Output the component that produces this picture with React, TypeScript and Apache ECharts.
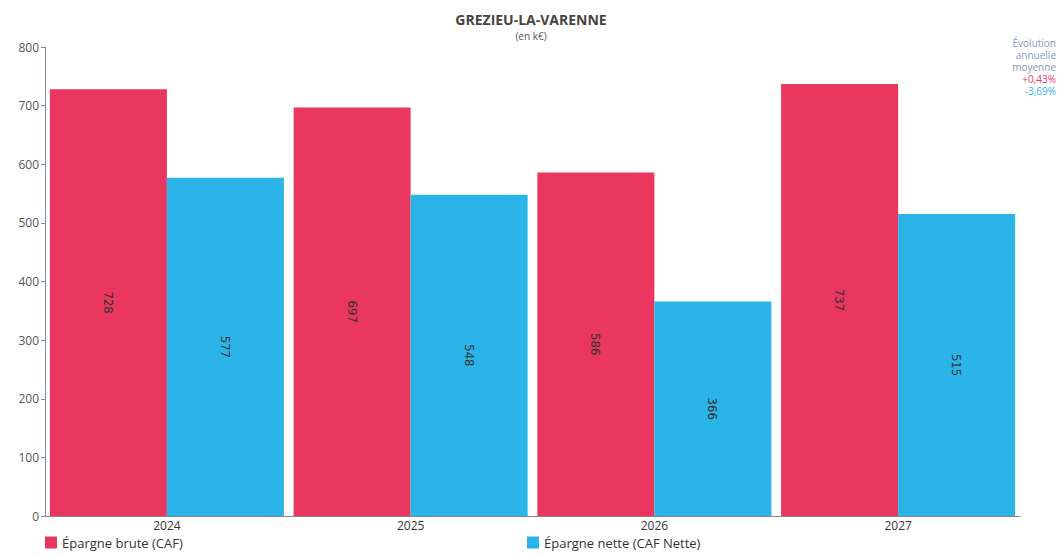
import React, { useEffect, useRef } from "react";
import * as echarts from "echarts";

const years = ["2024", "2025", "2026", "2027"];
const brute = [728, 697, 586, 737];
const nette = [577, 548, 366, 515];
const yTicks = { min: 0, max: 800, interval: 100 };
const evoLabel = ["Évolution", "annuelle", "moyenne"];
const evoBrute = "+0,43%";
const evoNette = "-3,69%";

const RED = "#E9375F";
const BLUE = "#2BB4E8";
const FONT = "'Open Sans', 'Noto Sans', sans-serif";

export default function App() {
  const ref = useRef<HTMLDivElement>(null);
  useEffect(() => {
    if (!ref.current) return;
    const chart = echarts.init(ref.current, null, { renderer: "svg" });
    const label = {
      show: true,
      position: "inside" as const,
      rotate: -90,
      color: "#333",
      fontSize: 13,
      fontFamily: "'DejaVu Sans Condensed', 'Liberation Sans Narrow', sans-serif",
    };
    const evoLines = [
      { text: evoLabel[0], fill: "#8a9ab5", top: 38 },
      { text: evoLabel[1], fill: "#8a9ab5", top: 50 },
      { text: evoLabel[2], fill: "#8a9ab5", top: 62 },
      { text: evoBrute, fill: RED, top: 74 },
      { text: evoNette, fill: BLUE, top: 86 },
    ];
    chart.setOption({
      animation: false,
      backgroundColor: "#fff",
      textStyle: { fontFamily: FONT },
      title: {
        text: "GREZIEU-LA-VARENNE",
        subtext: "(en k€)",
        left: "center",
        top: 6,
        itemGap: 3,
        textStyle: { fontSize: 14, fontWeight: "bold", color: "#444", fontFamily: FONT, lineHeight: 16 },
        subtextStyle: { fontSize: 10, color: "#555", fontFamily: FONT, lineHeight: 11 },
      },
      graphic: evoLines.map((l) => ({
        type: "text",
        right: 6,
        top: l.top,
        style: { text: l.text, fill: l.fill, font: `10px ${FONT}`, align: "right" },
      })),
      legend: [
        {
          data: ["Épargne brute (CAF)"],
          left: 40,
          bottom: 2,
          itemWidth: 12,
          itemHeight: 12,
          icon: "rect",
          textStyle: { fontSize: 13, color: "#333", fontFamily: FONT },
        },
        {
          data: ["Épargne nette (CAF Nette)"],
          left: 522,
          bottom: 2,
          itemWidth: 12,
          itemHeight: 12,
          icon: "rect",
          textStyle: { fontSize: 13, color: "#333", fontFamily: FONT },
        },
      ],
      grid: { left: 45, right: 42, top: 47, bottom: 40, containLabel: false },
      xAxis: {
        type: "category",
        data: years,
        axisLine: { show: true, lineStyle: { color: "#888" } },
        axisTick: { show: false },
        axisLabel: { color: "#333", fontSize: 12, margin: 3 },
      },
      yAxis: {
        type: "value",
        min: yTicks.min,
        max: yTicks.max,
        interval: yTicks.interval,
        axisLine: { show: true, lineStyle: { color: "#7a8ea8" } },
        axisTick: { show: true, length: 4, lineStyle: { color: "#7a8ea8" } },
        splitLine: { show: false },
        axisLabel: { color: "#555", fontSize: 12, margin: 6 },
      },
      series: [
        {
          name: "Épargne brute (CAF)",
          type: "bar",
          data: brute,
          itemStyle: { color: RED },
          barGap: "0%",
          barCategoryGap: "4%",
          label,
        },
        {
          name: "Épargne nette (CAF Nette)",
          type: "bar",
          data: nette,
          itemStyle: { color: BLUE },
          barGap: "0%",
          barCategoryGap: "4%",
          label,
        },
      ],
    });
    return () => chart.dispose();
  }, []);
  return <div ref={ref} style={{ width: 1062, height: 556, position: "fixed", left: 0, top: 0 }} />;
}
